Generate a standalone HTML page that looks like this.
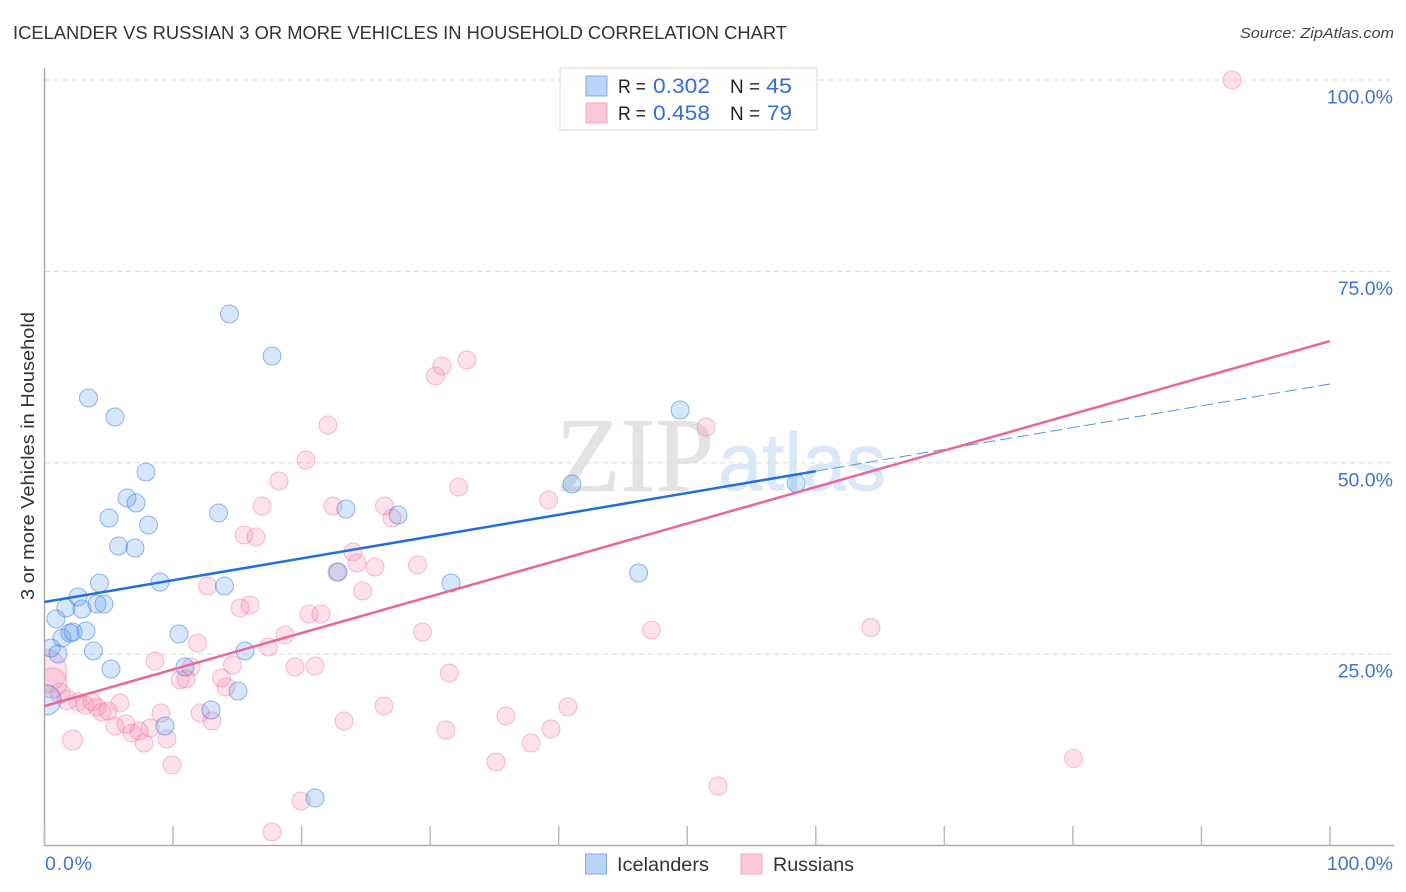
<!DOCTYPE html>
<html lang="en">
<head>
<meta charset="utf-8">
<title>Icelander vs Russian 3 or More Vehicles in Household Correlation Chart</title>
<style>
html,body{margin:0;padding:0;background:#fff;width:1406px;height:892px;overflow:hidden}
svg{display:block;font-family:"Liberation Sans",sans-serif}
</style>
</head>
<body>
<svg id="chart" xmlns="http://www.w3.org/2000/svg" width="1406" height="892" viewBox="0 0 1406 892">
  <defs>
    <clipPath id="plot-clip"><rect x="45" y="60" width="1349" height="786"/></clipPath>
  </defs>
  <text x="13" y="39" font-size="18.5" fill="#333" textLength="774" lengthAdjust="spacingAndGlyphs">ICELANDER VS RUSSIAN 3 OR MORE VEHICLES IN HOUSEHOLD CORRELATION CHART</text>
  <text x="1394" y="38" font-size="15" font-style="italic" fill="#444" text-anchor="end" textLength="154" lengthAdjust="spacingAndGlyphs">Source: ZipAtlas.com</text>
  <g id="watermark">
    <text x="556" y="491" font-family="'Liberation Serif',serif" font-size="106" fill="#e3e3e3" stroke="#e3e3e3" stroke-width="0.8" textLength="158" lengthAdjust="spacingAndGlyphs">ZIP</text>
    <text x="718" y="490" font-size="82" fill="#dbe8fa" stroke="#dbe8fa" stroke-width="0.8" textLength="168" lengthAdjust="spacingAndGlyphs">atlas</text>
  </g>
  <g id="grid"></g>
  <g id="pink-points" clip-path="url(#plot-clip)"></g>
  <g id="blue-points" clip-path="url(#plot-clip)"></g>
  <g id="axes"></g>
  <g id="trends"></g>
  <g id="labels"></g>
  <text transform="translate(34,456) rotate(-90)" font-size="18.5" fill="#333" text-anchor="middle" textLength="288" lengthAdjust="spacingAndGlyphs">3 or more Vehicles in Household</text>

  <g id="legend-top">
    <rect x="560" y="68" width="257" height="62" fill="#fff" fill-opacity="0.78" stroke="#d8d8d8" stroke-width="1"/>
    <rect x="586" y="76" width="21" height="20" fill="#b9d4f7" stroke="#7fade8" stroke-width="1"/>
    <rect x="586" y="103" width="21" height="20" fill="#fcc8d9" stroke="#f3a6c0" stroke-width="1"/>
    <text x="618" y="93" font-size="19.5" fill="#222" textLength="28" lengthAdjust="spacingAndGlyphs">R =</text>
    <text x="653" y="93" font-size="21" fill="#3070d8" textLength="57" lengthAdjust="spacingAndGlyphs">0.302</text>
    <text x="730" y="93" font-size="19.5" fill="#222" textLength="30" lengthAdjust="spacingAndGlyphs">N =</text>
    <text x="766" y="93" font-size="21" fill="#3070d8" textLength="26" lengthAdjust="spacingAndGlyphs">45</text>
    <text x="618" y="120" font-size="19.5" fill="#222" textLength="28" lengthAdjust="spacingAndGlyphs">R =</text>
    <text x="653" y="120" font-size="21" fill="#3070d8" textLength="57" lengthAdjust="spacingAndGlyphs">0.458</text>
    <text x="730" y="120" font-size="19.5" fill="#222" textLength="30" lengthAdjust="spacingAndGlyphs">N =</text>
    <text x="767" y="120" font-size="21" fill="#3070d8" textLength="25" lengthAdjust="spacingAndGlyphs">79</text>
  </g>

  <g id="legend-bottom">
    <rect x="585.5" y="854" width="21" height="20" fill="#b9d4f7" stroke="#7fade8" stroke-width="1"/>
    <text x="617" y="871" font-size="19.5" fill="#333" textLength="92" lengthAdjust="spacingAndGlyphs">Icelanders</text>
    <rect x="741" y="854" width="21" height="20" fill="#fcc8d9" stroke="#f3a6c0" stroke-width="1"/>
    <text x="773" y="871" font-size="19.5" fill="#333" textLength="81" lengthAdjust="spacingAndGlyphs">Russians</text>
  </g>
</svg>
<script>
// Data, all in percent
const icelanderX = [14.39,17.70,3.42,5.48,7.90,6.42,7.12,5.02,8.09,13.54,5.76,7.04,4.28,8.98,14.00,2.61,1.67,2.92,4.08,4.63,0.89,1.36,1.98,2.22,3.23,0.51,1.05,3.81,5.17,10.46,10.93,15.60,15.05,12.95,9.37,0.12,21.04,22.83,23.45,27.50,31.62,41.03,46.21,49.44,58.46];
const icelanderY = [69.43,63.94,58.46,55.98,48.79,45.39,44.74,42.78,41.87,43.44,39.12,38.86,34.29,34.42,33.90,32.46,31.03,30.89,31.55,31.55,29.59,27.11,27.76,27.89,28.02,25.80,25.02,25.41,23.06,27.63,23.32,25.41,20.18,17.70,15.61,19.01,6.21,35.73,43.96,43.17,34.29,47.22,35.60,56.89,47.35];
const icelanderSize = [9,9,9,9,9,9,9,9,9,9,9,9,9,9,9,9,9,9,9,9,9,9,9,9,9,9,9,9,9,9,9,9,9,9,9,15,9,9,9,9,9,9,9,9,9];

const russianX = [50.99,92.38,32.87,30.92,30.42,22.05,51.46,20.34,18.24,32.21,39.21,16.92,22.44,26.45,27.03,15.52,16.45,24.00,24.31,25.71,29.02,22.75,24.74,12.68,15.21,15.99,20.58,21.51,29.40,18.71,11.90,17.42,47.22,64.29,8.60,11.40,14.62,19.49,21.04,31.50,10.54,11.01,13.77,14.12,26.41,40.72,35.90,23.30,31.23,39.40,37.85,35.12,80.05,52.39,19.95,17.70,5.87,9.06,12.10,13.03,5.48,6.34,8.21,6.81,7.35,9.53,7.74,9.92,0.00,0.58,1.21,1.75,2.61,3.15,3.70,4.08,4.47,4.94,2.18];
const russianY = [99.74,100.00,63.42,62.64,61.33,54.93,54.67,50.36,47.62,46.83,45.13,44.35,44.35,44.35,42.78,40.56,40.30,38.34,36.90,36.38,36.64,35.73,33.25,33.90,31.03,31.42,30.24,30.24,27.89,27.50,26.45,25.93,28.15,28.48,24.10,23.32,23.58,23.32,23.45,22.53,21.62,21.75,21.88,20.71,18.22,18.09,16.92,16.26,15.09,15.22,13.39,10.91,11.37,7.77,5.81,1.76,18.62,17.31,17.31,16.26,15.61,15.87,15.35,14.70,14.96,13.91,13.39,10.52,22.80,21.23,19.92,19.01,18.75,18.35,18.75,18.09,17.44,17.57,13.78];
const russianSize = [9,9,9,9,9,9,9,9,9,9,9,9,9,9,9,9,9,9,9,9,9,9,9,9,9,9,9,9,9,9,9,9,9,9,9,9,9,9,9,9,9,9,9,9,9,9,9,9,9,9,9,9,9,9,9,9,9,9,9,9,9,9,9,9,9,9,9,9,22,15,10,10,9,9,9,9,9,9,10];

const icelanderTrendIntercept = 31.81;
const icelanderTrendEnd = 60.29;
const icelanderTrendSolidTo = 60;
const russianTrendIntercept = 18.22;
const russianTrendEnd = 65.9;

const yTicks = [25,50,75,100];
const yTickLabels = ["25.0%","50.0%","75.0%","100.0%"];
const xTicks = [0,10,20,30,40,50,60,70,80,90,100];
const xEndValues = [0,100];
const xEndLabels = ["0.0%","100.0%"];

// Axis functions
const NS = "http://www.w3.org/2000/svg";
const xScale = v => 44.5 + v * 12.855;
const yScale = v => 845.5 - v * 7.655;

function mk(parent, tag, attrs) {
  const el = document.createElementNS(NS, tag);
  for (const k in attrs) el.setAttribute(k, attrs[k]);
  parent.appendChild(el);
  return el;
}

const grid = document.getElementById("grid");
const axes = document.getElementById("axes");
const labels = document.getElementById("labels");
const trends = document.getElementById("trends");

yTicks.forEach((t, i) => {
  const ln = mk(grid, "line", {x1: 45, x2: 1394, y1: yScale(t), y2: yScale(t), stroke: "#dcdcdc", "stroke-width": 1, "stroke-dasharray": "5 4"});
  
  
  const tx = mk(labels, "text", {x: 1393, y: yScale(t) + 23.5, "text-anchor": "end", "font-size": 19.5, fill: "#3f74d6"});
  
  
  tx.textContent = yTickLabels[i];
});

const yAxis = mk(axes, "line", {x1: 44.5, x2: 44.5, y1: 68, y2: 846, stroke: "#aaa", "stroke-width": 1.5});


const xAxis = mk(axes, "line", {x1: 44, x2: 1394, y1: 845.5, y2: 845.5, stroke: "#aaa", "stroke-width": 1.5});



xTicks.forEach(t => {
  const ln = mk(axes, "line", {x1: xScale(t), x2: xScale(t), y1: 826, y2: 846, stroke: "#bbb", "stroke-width": 1.5});
  
  
});

xEndValues.forEach((t, i) => {
  const tx = mk(labels, "text", {x: i === 0 ? 45 : 1393, y: 870, "text-anchor": i === 0 ? "start" : "end", "font-size": 19.5, fill: "#3f74d6"});
  if (i === 0) tx.setAttribute("textLength", 47);
  
  
  tx.textContent = xEndLabels[i];
});

function drawPoints(groupId, xs, ys, sizes, fill, stroke) {
  const g = document.getElementById(groupId);
  xs.forEach((x, i) => {
    const c = mk(g, "circle", {cx: xScale(x), cy: yScale(ys[i]), r: sizes[i], fill: fill, stroke: stroke, "stroke-width": 1});
    
    
  });
}
drawPoints("pink-points", russianX, russianY, russianSize, "rgba(246,125,165,0.22)", "rgba(238,115,155,0.45)");
drawPoints("blue-points", icelanderX, icelanderY, icelanderSize, "rgba(85,150,238,0.24)", "rgba(45,115,215,0.5)");

const iceAt = v => icelanderTrendIntercept + (icelanderTrendEnd - icelanderTrendIntercept) * v / 100;
const rusAt = v => russianTrendIntercept + (russianTrendEnd - russianTrendIntercept) * v / 100;

const blueDash = mk(trends, "line", {x1: xScale(icelanderTrendSolidTo), y1: yScale(iceAt(icelanderTrendSolidTo)), x2: xScale(100), y2: yScale(iceAt(100)), stroke: "#5a92dc", "stroke-width": 1, "stroke-dasharray": "12 5"});


const blueLine = mk(trends, "line", {x1: xScale(0), y1: yScale(iceAt(0)), x2: xScale(icelanderTrendSolidTo), y2: yScale(iceAt(icelanderTrendSolidTo)), stroke: "#1f6fdc", "stroke-width": 2.5});


const pinkLine = mk(trends, "line", {x1: xScale(0), y1: yScale(rusAt(0)), x2: xScale(100), y2: yScale(rusAt(100)), stroke: "#ea6698", "stroke-width": 2.5});


</script>
</body>
</html>
